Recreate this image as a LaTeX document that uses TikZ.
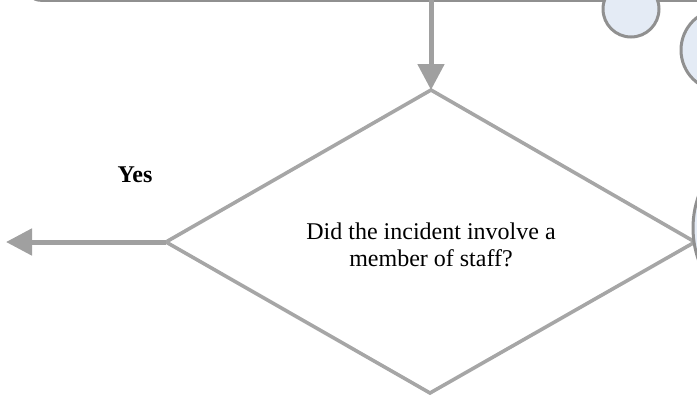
\documentclass[tikz,border=0pt]{standalone}
\usepackage{fontspec}
\setmainfont{Liberation Serif}
\usetikzlibrary{arrows.meta}
\definecolor{arrowgray}{HTML}{A0A0A0}
\definecolor{linegray}{HTML}{A6A6A6}
\definecolor{bubblefill}{HTML}{E4EBF5}
\definecolor{bubbleedge}{HTML}{909090}
\begin{document}
\begin{tikzpicture}[x=0.5pt,y=-0.5pt,
  flow/.style={draw=arrowgray, line width=2.5pt, -{Triangle[length=13pt,width=13pt]}},
  decision/.style={draw=linegray, line width=1.8pt, line join=miter},
  bubble/.style={draw=bubbleedge, fill=bubblefill, line width=1.5pt},
  txt/.style={font=\fontsize{12pt}{13.5pt}\selectfont, align=center, inner sep=0pt}]
\useasboundingbox (0,0) rectangle (697,398);
\clip (0,0) rectangle (697,398);
% previous step box (only its bottom edge is visible)
\draw[draw=bubbleedge, line width=0.8pt, rounded corners=8pt] (25,-80) rectangle (760,1);
\coordinate (prev) at (431,0);
% decision diamond
\coordinate (top) at (431,90);
\coordinate (r) at (695,242);
\coordinate (bot) at (430,393);
\coordinate (l) at (166,242);
\draw[decision] (top) -- (r) -- (bot) -- (l) -- cycle;
\node[txt] (q) at (431,245) {Did the incident involve a\\member of staff?};
% connectors
\draw[flow] (prev) -- (top);
\coordinate (yesend) at (6,242);
\draw[flow] (l) -- (yesend);
\node[txt] (yes) at (135,175) {\bfseries Yes};
% decorative bubbles on the right
\draw[bubble] (631,9) circle[radius=14pt];
\draw[bubble] (722,50) circle[radius=20.5pt];
\draw[bubble] (789,228) circle[radius=48pt];
\end{tikzpicture}
\end{document}
